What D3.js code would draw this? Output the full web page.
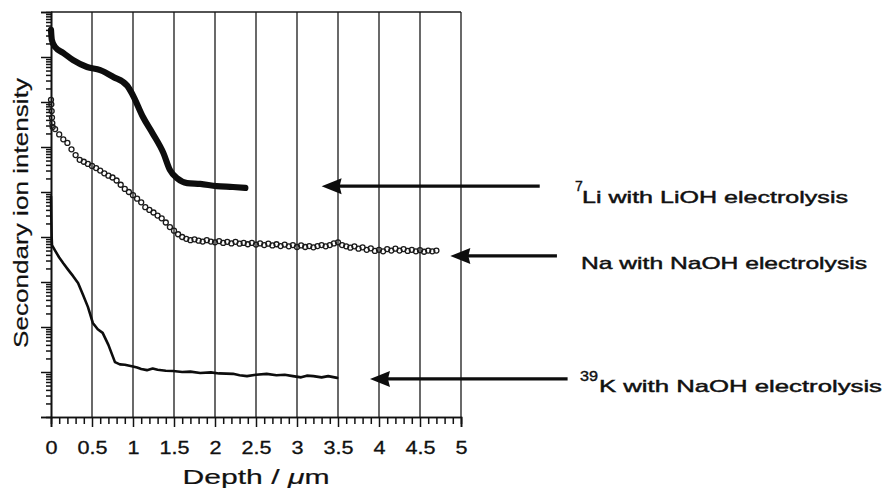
<!DOCTYPE html>
<html>
<head>
<meta charset="utf-8">
<script src="https://cdn.jsdelivr.net/npm/d3@7/dist/d3.min.js"></script>
<style>
  body { margin: 0; background: #ffffff; }
  svg { display: block; }
  text { font-family: "Liberation Sans", Arial, sans-serif; fill: #111; }
</style>
</head>
<body>
<svg id="chart" width="887" height="493"></svg>
<script>
// Depth profiles (SIMS) — depth in µm, secondary ion intensity in counts
const liDepth = [0, 0.01, 0.05, 0.15, 0.27, 0.44, 0.6, 0.76, 0.93, 1.0, 1.12, 1.24, 1.37, 1.45, 1.54, 1.66, 1.82, 2.02, 2.22, 2.37];
const liIntensity = [4.0e8, 2.4e8, 1.66e8, 1.23e8, 8.5e7, 6.0e7, 5.1e7, 3.6e7, 2.3e7, 1.4e7, 4.7e6, 2.0e6, 7.4e5, 3.1e5, 2.0e5, 1.58e5, 1.51e5, 1.35e5, 1.29e5, 1.23e5];

const naDepth = [0, 0.004, 0.008, 0.012, 0.016, 0.02, 0.05, 0.1, 0.15, 0.2, 0.25, 0.3, 0.35, 0.4, 0.45, 0.5, 0.55, 0.6, 0.65, 0.7, 0.75, 0.8, 0.85, 0.9, 0.95,
  1.0, 1.05, 1.1, 1.15, 1.2, 1.25, 1.3, 1.35, 1.4, 1.45, 1.5, 1.55, 1.6, 1.65, 1.7, 1.75, 1.8, 1.85, 1.9, 1.95,
  2.0, 2.05, 2.1, 2.15, 2.2, 2.25, 2.3, 2.35, 2.4, 2.45, 2.5, 2.55, 2.6, 2.65, 2.7, 2.75, 2.8, 2.85, 2.9, 2.95,
  3.0, 3.05, 3.1, 3.15, 3.2, 3.25, 3.3, 3.35, 3.4, 3.45, 3.5, 3.55, 3.6, 3.65, 3.7, 3.75, 3.8, 3.85, 3.9, 3.95,
  4.0, 4.05, 4.1, 4.15, 4.2, 4.25, 4.3, 4.35, 4.4, 4.45, 4.5, 4.55, 4.6, 4.65, 4.7];
const naIntensity = [1.12e7, 8.9e6, 6.3e6, 4.5e6, 3.4e6, 2.8e6, 2.5e6, 1.9e6, 1.48e6, 1.23e6, 8.9e5, 6.6e5, 5.2e5, 4.7e5, 4.2e5, 3.8e5, 3.4e5, 3.0e5, 2.6e5, 2.3e5, 2.1e5, 1.8e5, 1.45e5, 1.17e5, 1.0e5,
  8.5e4, 7.1e4, 5.9e4, 4.6e4, 4.0e4, 3.5e4, 3.0e4, 2.6e4, 2.1e4, 1.66e4, 1.38e4, 1.15e4, 1.0e4, 9.1e3, 8.5e3, 8.9e3, 8.3e3, 7.9e3, 8.5e3, 7.9e3,
  7.6e3, 8.1e3, 7.4e3, 7.8e3, 7.2e3, 7.8e3, 7.1e3, 7.4e3, 6.9e3, 7.4e3, 6.8e3, 7.2e3, 6.6e3, 7.1e3, 6.5e3, 6.9e3, 6.3e3, 6.8e3, 6.2e3, 6.6e3,
  6.0e3, 6.5e3, 6.0e3, 6.3e3, 5.9e3, 6.3e3, 6.6e3, 6.2e3, 6.6e3, 7.2e3, 7.6e3, 6.6e3, 6.2e3, 5.8e3, 6.2e3, 5.5e3, 5.9e3, 5.2e3, 5.6e3, 4.9e3,
  5.2e3, 4.8e3, 5.4e3, 5.0e3, 5.5e3, 5.0e3, 5.4e3, 4.9e3, 5.2e3, 4.8e3, 5.1e3, 4.7e3, 5.0e3, 4.8e3, 5.0e3];

const kDepth = [0, 0.004, 0.008, 0.012, 0.05, 0.1, 0.15, 0.21, 0.27, 0.33, 0.39, 0.45, 0.51, 0.57, 0.63, 0.7, 0.78, 0.84, 0.9, 1.0, 1.05, 1.1, 1.17, 1.24, 1.3, 1.4, 1.49,
  1.6, 1.7, 1.82, 1.95, 2.05, 2.22, 2.3, 2.39, 2.5, 2.63, 2.75, 2.85, 2.95, 3.05, 3.12, 3.2, 3.3, 3.38, 3.49];
const kIntensity = [7.9e4, 2.5e4, 1.0e4, 6.6e3, 5.0e3, 3.5e3, 2.6e3, 1.86e3, 1.35e3, 950, 520, 280, 123, 89, 74, 40, 16.6, 14.8, 14.5, 13.2, 12.6, 11.7, 11.0, 12.0, 11.2, 10.7, 10.5,
  10.0, 10.2, 9.5, 9.8, 9.3, 9.1, 8.5, 8.1, 8.7, 9.1, 8.5, 8.7, 8.1, 7.6, 8.3, 8.1, 7.6, 8.1, 7.4];

// Axis ticks
const depthMajor = [0, 0.5, 1, 1.5, 2, 2.5, 3, 3.5, 4, 4.5, 5];
const depthLabels = ["0", "0.5", "1", "1.5", "2", "2.5", "3", "3.5", "4", "4.5", "5"];
const depthMinor = [0.1, 0.2, 0.3, 0.4, 0.6, 0.7, 0.8, 0.9, 1.1, 1.2, 1.3, 1.4, 1.6, 1.7, 1.8, 1.9, 2.1, 2.2, 2.3, 2.4, 2.6, 2.7, 2.8, 2.9,
  3.1, 3.2, 3.3, 3.4, 3.6, 3.7, 3.8, 3.9, 4.1, 4.2, 4.3, 4.4, 4.6, 4.7, 4.8, 4.9];
const decades = [1, 1e1, 1e2, 1e3, 1e4, 1e5, 1e6, 1e7, 1e8, 1e9];

// Annotations: superscript, label, arrow tip (depth, intensity), arrow tail depth
const noteSup = ["7", "", "39"];
const noteText = ["Li with LiOH electrolysis", "Na with NaOH electrolysis", "K with NaOH electrolysis"];
const noteTipDepth = [3.30, 4.87, 3.89];
const noteTailDepth = [5.96, 6.17, 6.30];
const noteLevel = [1.35e5, 3.8e3, 7.0];

const svg = d3.select("#chart");
const x = d3.scaleLinear().domain([0, 5]).range([51, 461]);
const y = d3.scaleLog().domain([1, 1e9]).range([417, 12]);

// widen glyphs horizontally
function stretch(sel, k) {
  sel.each(function () {
    const w = this.getComputedTextLength();
    this.setAttribute("textLength", w * k);
    this.setAttribute("lengthAdjust", "spacingAndGlyphs");
  });
}

// vertical grid lines
svg.append("g")
  .selectAll("line")
  .data(depthMajor.slice(1))
  .join("line")
  .attr("x1", d => x(d)).attr("x2", d => x(d))
  .attr("y1", y(1e9)).attr("y2", y(1))
  .attr("stroke", "#1a1a1a").attr("stroke-width", 1.3);

// top border
svg.append("line")
  .attr("x1", x(0)).attr("x2", x(5))
  .attr("y1", y(1e9)).attr("y2", y(1e9))
  .attr("stroke", "#1a1a1a").attr("stroke-width", 1.5);

// left axis: decades and minor log ticks, no labels
const minorY = [];
decades.slice(0, -1).forEach(dv => { for (let k = 2; k <= 9; k++) minorY.push(dv * k); });
const yAxisMajor = svg.append("g").attr("transform", `translate(${x(0)},0)`)
  .call(d3.axisLeft(y).tickValues(decades).tickSize(10).tickFormat(""));
const yAxisMinor = svg.append("g").attr("transform", `translate(${x(0)},0)`)
  .call(d3.axisLeft(y).tickValues(minorY).tickSize(5).tickFormat(""));
[yAxisMajor, yAxisMinor].forEach(g => {
  g.select(".domain").attr("stroke", "#111").attr("stroke-width", 1.6);
  g.selectAll(".tick line").attr("stroke", "#111").attr("stroke-width", 1.5);
});

// bottom axis
const xAxisMinor = svg.append("g").attr("transform", `translate(0,${y(1)})`)
  .call(d3.axisBottom(x).tickValues(depthMinor).tickSize(7).tickFormat(""));
const xAxisMajor = svg.append("g").attr("transform", `translate(0,${y(1)})`)
  .call(d3.axisBottom(x).tickValues(depthMajor).tickSize(10).tickPadding(14)
    .tickFormat((d, i) => depthLabels[i]));
[xAxisMajor, xAxisMinor].forEach(g => {
  g.select(".domain").attr("stroke", "#111").attr("stroke-width", 1.6);
  g.selectAll(".tick line").attr("stroke", "#111").attr("stroke-width", 1.5);
});
xAxisMajor.selectAll(".tick text")
  .attr("font-size", 18)
  .attr("font-family", "'Liberation Sans', Arial, sans-serif")
  .attr("fill", "#111")
  .attr("stroke", "#111").attr("stroke-width", 0.3)
  .call(stretch, 1.2);

// axis titles
const xTitle = svg.append("text")
  .attr("x", (x(0) + x(5)) / 2).attr("y", 484)
  .attr("text-anchor", "middle")
  .attr("font-size", 20)
  .attr("stroke", "#111").attr("stroke-width", 0.2);
xTitle.append("tspan").text("Depth /  ");
xTitle.append("tspan").attr("font-style", "italic").text("μ");
xTitle.append("tspan").text("m");
xTitle.attr("textLength", 147).attr("lengthAdjust", "spacingAndGlyphs");

svg.append("text")
  .attr("transform", "translate(28,213) rotate(-90)")
  .attr("text-anchor", "middle")
  .attr("font-size", 20)
  .attr("stroke", "#111").attr("stroke-width", 0.2)
  .attr("textLength", 270).attr("lengthAdjust", "spacingAndGlyphs")
  .text("Secondary ion intensity");

// series
const liLine = d3.line().x((d, i) => x(liDepth[i])).y(d => y(d)).curve(d3.curveMonotoneX);
svg.append("path")
  .datum(liIntensity)
  .attr("d", liLine)
  .attr("fill", "none").attr("stroke", "#0d0d0d")
  .attr("stroke-width", 6.2).attr("stroke-linejoin", "round").attr("stroke-linecap", "round");

const kLine = d3.line().x((d, i) => x(kDepth[i])).y(d => y(d)).curve(d3.curveLinear);
svg.append("path")
  .datum(kIntensity)
  .attr("d", kLine)
  .attr("fill", "none").attr("stroke", "#0d0d0d")
  .attr("stroke-width", 2.6).attr("stroke-linejoin", "round").attr("stroke-linecap", "round");

svg.append("g")
  .selectAll("circle")
  .data(naIntensity)
  .join("circle")
  .attr("cx", (d, i) => x(naDepth[i]))
  .attr("cy", d => y(d))
  .attr("r", 2.5)
  .attr("fill", "none").attr("stroke", "#1a1a1a").attr("stroke-width", 1.3);

// annotation arrows and labels
const notes = svg.append("g");
noteText.forEach((t, i) => {
  const tipX = x(noteTipDepth[i]);
  const tailX = x(noteTailDepth[i]);
  const ay = y(noteLevel[i]);
  notes.append("line")
    .attr("x1", tipX + 12).attr("x2", tailX)
    .attr("y1", ay).attr("y2", ay)
    .attr("stroke", "#0d0d0d").attr("stroke-width", 3.2);
  notes.append("path")
    .attr("d", `M${tipX},${ay} L${tipX + 20},${ay - 8} L${tipX + 18},${ay} L${tipX + 20},${ay + 8} Z`)
    .attr("fill", "#0d0d0d");
});

const labelX = 581;
// 7Li
notes.append("text").attr("x", labelX - 6).attr("y", y(noteLevel[0]) + 5)
  .attr("font-size", 14).attr("stroke", "#111").attr("stroke-width", 0.4).text(noteSup[0]);
notes.append("text").attr("x", labelX + 1).attr("y", y(noteLevel[0]) + 17)
  .attr("font-size", 17).attr("stroke", "#111").attr("stroke-width", 0.45)
  .attr("textLength", 266).attr("lengthAdjust", "spacingAndGlyphs").text(noteText[0]);
// Na
notes.append("text").attr("x", labelX).attr("y", y(noteLevel[1]) + 13)
  .attr("font-size", 17).attr("stroke", "#111").attr("stroke-width", 0.45)
  .attr("textLength", 286).attr("lengthAdjust", "spacingAndGlyphs").text(noteText[1]);
// 39K
notes.append("text").attr("x", labelX - 1).attr("y", y(noteLevel[2]) + 2)
  .attr("font-size", 14).attr("stroke", "#111").attr("stroke-width", 0.4)
  .attr("textLength", 18).attr("lengthAdjust", "spacingAndGlyphs").text(noteSup[2]);
notes.append("text").attr("x", labelX + 18).attr("y", y(noteLevel[2]) + 13)
  .attr("font-size", 17).attr("stroke", "#111").attr("stroke-width", 0.45)
  .attr("textLength", 283).attr("lengthAdjust", "spacingAndGlyphs").text(noteText[2]);
</script>
</body>
</html>
